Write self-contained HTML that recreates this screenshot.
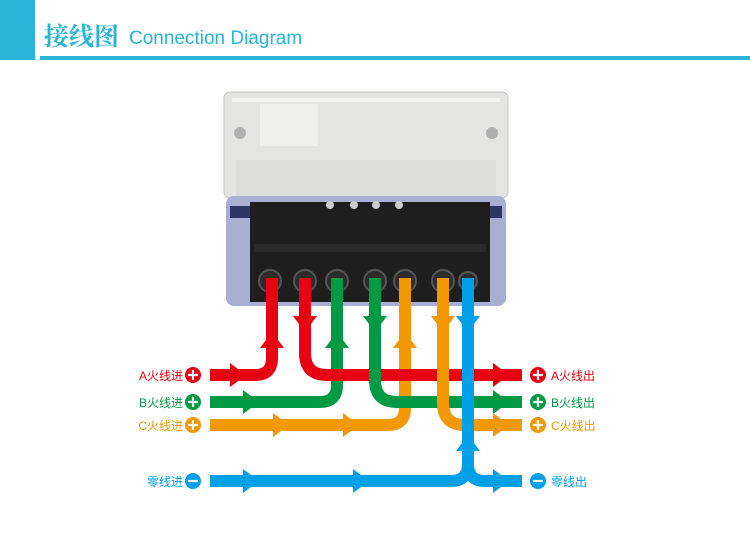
<!DOCTYPE html>
<html><head><meta charset="utf-8"><style>
body{margin:0;width:750px;height:545px;background:#fff;overflow:hidden;font-family:"Liberation Sans","Noto Sans CJK SC",sans-serif}
</style></head><body>
<svg width="750" height="545" viewBox="0 0 750 545" xmlns="http://www.w3.org/2000/svg">
<rect x="0" y="0" width="35" height="60" fill="#27b5d8"/>
<rect x="40" y="56" width="710" height="4" fill="#27b5d8"/>
<text x="44" y="45" font-family="'Noto Serif CJK SC',serif" font-weight="bold" font-size="25" fill="#27b5d8">接线图</text>
<text x="129" y="44" font-size="19" fill="#27b5d8">Connection Diagram</text>

<!-- meter -->
<rect x="224" y="92" width="284" height="106" rx="6" fill="#e4e4e2" stroke="#c8c8c6"/>
<rect x="232" y="98" width="268" height="4" fill="#f4f4f2"/>
<rect x="260" y="104" width="58" height="42" fill="#efefed"/>
<rect x="236" y="160" width="260" height="36" fill="#dcdcda"/>
<circle cx="240" cy="133" r="6" fill="#b0b0b0"/><circle cx="492" cy="133" r="6" fill="#b0b0b0"/>
<rect x="226" y="196" width="280" height="110" rx="8" fill="#a8afd2"/>
<rect x="230" y="206" width="22" height="12" fill="#2b3566"/><rect x="480" y="206" width="22" height="12" fill="#2b3566"/>
<rect x="250" y="202" width="240" height="100" fill="#1e1e1e"/>
<rect x="254" y="244" width="232" height="8" fill="#2a2a2a"/>
<g fill="#2c2c2c" stroke="#555" stroke-width="2">
<circle cx="270" cy="281" r="11"/><circle cx="305" cy="281" r="11"/><circle cx="337" cy="281" r="11"/><circle cx="375" cy="281" r="11"/><circle cx="405" cy="281" r="11"/><circle cx="443" cy="281" r="11"/><circle cx="468" cy="281" r="9"/>
</g>
<g fill="#ccc"><circle cx="330" cy="205" r="4"/><circle cx="354" cy="205" r="4"/><circle cx="376" cy="205" r="4"/><circle cx="399" cy="205" r="4"/></g>

<g fill="none" stroke-width="12" stroke-linejoin="round">
<path d="M210 375 H255 Q272 375 272 358 V278" stroke="#e60012"/>
<path d="M210 402 H320 Q337 402 337 385 V278" stroke="#009a44"/>
<path d="M210 425 H388 Q405 425 405 408 V278" stroke="#f39800"/>
<path d="M305 278 V353 Q305 375 327 375 H522" stroke="#e60012"/>
<path d="M375 278 V380 Q375 402 397 402 H522" stroke="#009a44"/>
<path d="M443 278 V403 Q443 425 465 425 H522" stroke="#f39800"/>
<path d="M210 481 H451 Q468 481 468 464 V278" stroke="#00a0e9"/>
<path d="M468 464 Q468 481 485 481 H522" stroke="#00a0e9"/>
</g>
<!-- arrows: base shape points right -->
<g>
<polygon transform="translate(238 375)" points="-8,-12 8,0 -8,12" fill="#e60012"/>
<polygon transform="translate(272 340) rotate(-90)" points="-8,-12 8,0 -8,12" fill="#e60012"/>
<polygon transform="translate(305 324) rotate(90)" points="-8,-12 8,0 -8,12" fill="#e60012"/>
<polygon transform="translate(501 375)" points="-8,-12 8,0 -8,12" fill="#e60012"/>
<polygon transform="translate(251 402)" points="-8,-12 8,0 -8,12" fill="#009a44"/>
<polygon transform="translate(337 340) rotate(-90)" points="-8,-12 8,0 -8,12" fill="#009a44"/>
<polygon transform="translate(375 324) rotate(90)" points="-8,-12 8,0 -8,12" fill="#009a44"/>
<polygon transform="translate(501 402)" points="-8,-12 8,0 -8,12" fill="#009a44"/>
<polygon transform="translate(281 425)" points="-8,-12 8,0 -8,12" fill="#f39800"/>
<polygon transform="translate(351 425)" points="-8,-12 8,0 -8,12" fill="#f39800"/>
<polygon transform="translate(405 340) rotate(-90)" points="-8,-12 8,0 -8,12" fill="#f39800"/>
<polygon transform="translate(443 324) rotate(90)" points="-8,-12 8,0 -8,12" fill="#f39800"/>
<polygon transform="translate(501 425)" points="-8,-12 8,0 -8,12" fill="#f39800"/>
<polygon transform="translate(251 481)" points="-8,-12 8,0 -8,12" fill="#00a0e9"/>
<polygon transform="translate(361 481)" points="-8,-12 8,0 -8,12" fill="#00a0e9"/>
<polygon transform="translate(468 443) rotate(-90)" points="-8,-12 8,0 -8,12" fill="#00a0e9"/>
<polygon transform="translate(468 324) rotate(90)" points="-8,-12 8,0 -8,12" fill="#00a0e9"/>
<polygon transform="translate(501 481)" points="-8,-12 8,0 -8,12" fill="#00a0e9"/>
</g>
<!-- labels -->
<g font-size="12" text-anchor="end">
<text x="183" y="380" fill="#e60012">A火线进</text>
<text x="183" y="407" fill="#009a44">B火线进</text>
<text x="183" y="430" fill="#f39800">C火线进</text>
<text x="183" y="486" fill="#00a0e9">零线进</text>
</g>
<g font-size="12">
<text x="551" y="380" fill="#e60012">A火线出</text>
<text x="551" y="407" fill="#009a44">B火线出</text>
<text x="551" y="430" fill="#f39800">C火线出</text>
<text x="551" y="486" fill="#00a0e9">零线出</text>
</g>
<g stroke="#fff" stroke-width="2.2">
<circle cx="193" cy="375" r="8" fill="#e60012" stroke="none"/><path d="M188 375h10M193 370v10"/>
<circle cx="193" cy="402" r="8" fill="#009a44" stroke="none"/><path d="M188 402h10M193 397v10"/>
<circle cx="193" cy="425" r="8" fill="#f39800" stroke="none"/><path d="M188 425h10M193 420v10"/>
<circle cx="193" cy="481" r="8" fill="#00a0e9" stroke="none"/><path d="M188 481h10"/>
<circle cx="538" cy="375" r="8" fill="#e60012" stroke="none"/><path d="M533 375h10M538 370v10"/>
<circle cx="538" cy="402" r="8" fill="#009a44" stroke="none"/><path d="M533 402h10M538 397v10"/>
<circle cx="538" cy="425" r="8" fill="#f39800" stroke="none"/><path d="M533 425h10M538 420v10"/>
<circle cx="538" cy="481" r="8" fill="#00a0e9" stroke="none"/><path d="M533 481h10"/>
</g>
</svg>
</body></html>
